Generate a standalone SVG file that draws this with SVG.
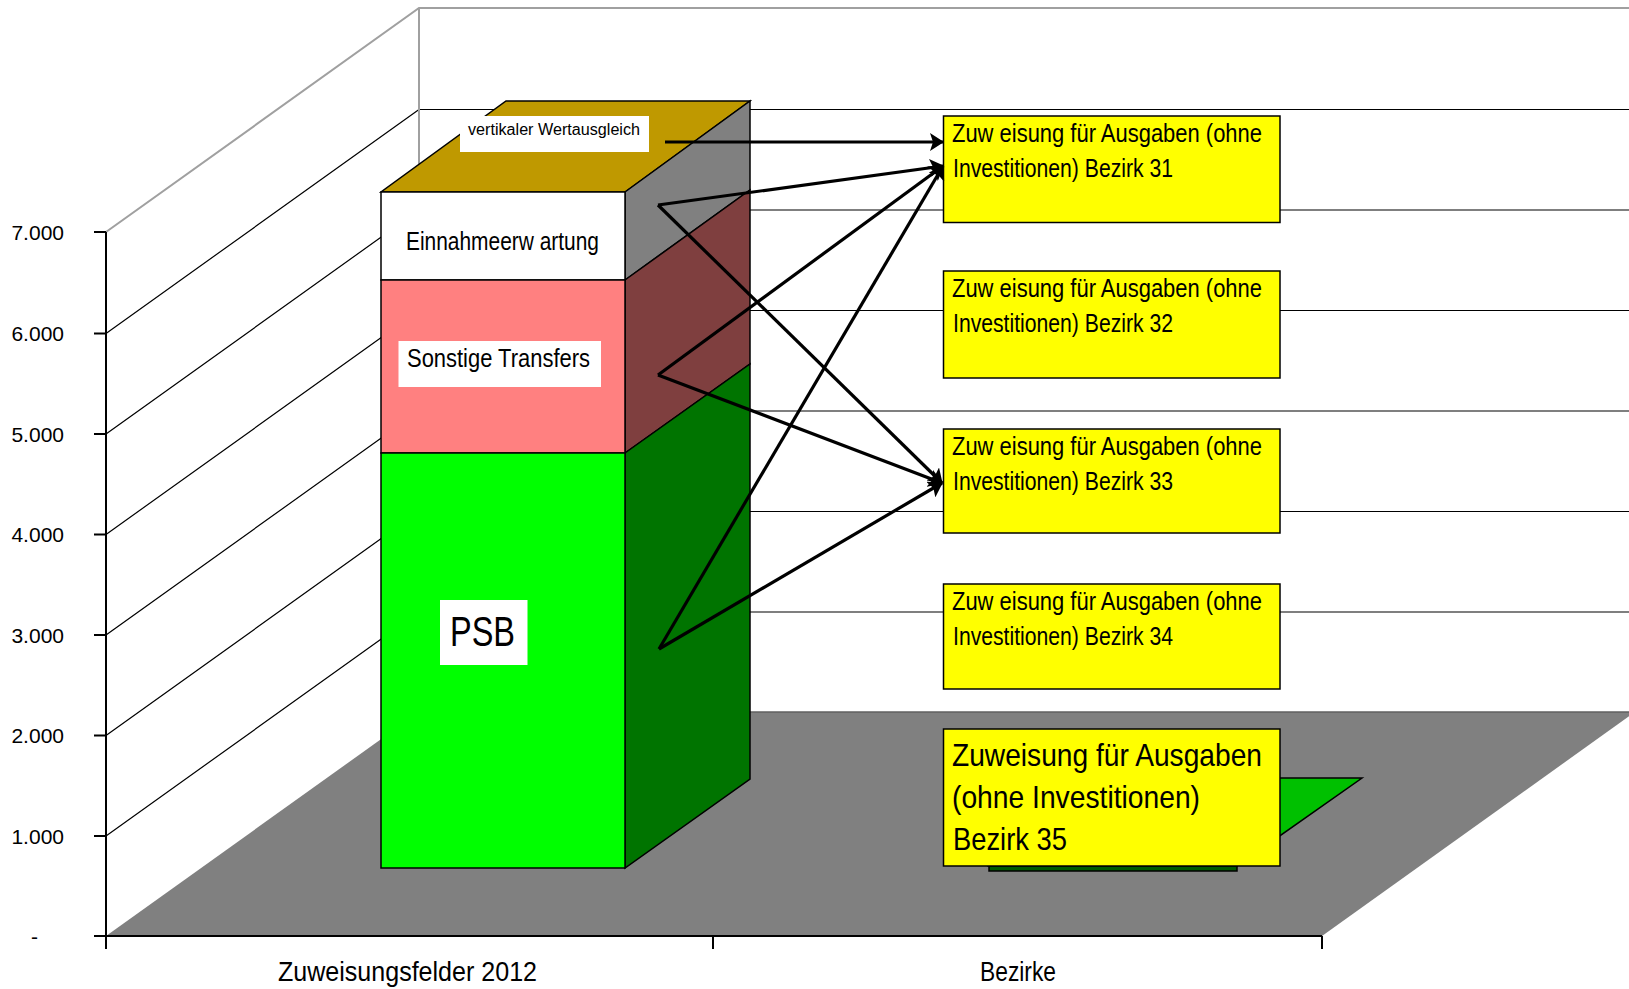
<svg xmlns="http://www.w3.org/2000/svg" width="1629" height="989" viewBox="0 0 1629 989">
<defs>
<style>
text{font-family:"Liberation Sans",Arial,sans-serif;fill:#000}
.ax{font-size:21px;text-anchor:end}
.grid{stroke:#000;stroke-width:1.2;fill:none}
.edge{stroke:#a0a0a0;stroke-width:2;fill:none}
.face{stroke:#000;stroke-width:1.5}
.box{fill:#ffff00;stroke:#000;stroke-width:1.5}
.lbl{fill:#fff}
.bt{font-size:25px}
.conn{stroke:#000;stroke-width:3.2;fill:none;marker-end:url(#ah)}
</style>
<marker id="ah" viewBox="0 0 14 18" refX="13" refY="9" markerWidth="14" markerHeight="18" markerUnits="userSpaceOnUse" orient="auto">
<path d="M0,0 L14,9 L0,18 L3,9 z" fill="#000"/>
</marker>
</defs>
<rect width="1629" height="989" fill="#fff"/>

<g id="walls">
<path class="grid" d="M419,109.5H1629M419,210H1629M419,310.5H1629M419,411H1629M419,511.5H1629M419,612H1629"/>
<path class="grid" d="M106,333.5L419,109.5M106,434L419,210M106,534.5L419,310.5M106,635L419,411M106,735.5L419,511.5M106,836L419,612"/>
<path class="edge" d="M106,232L419,8H1629M419,8V712"/>
<polygon points="106,936 1322,936 1635,712 419,712" fill="#808080"/>
<path d="M419,712H1635" stroke="#606060" stroke-width="1.5"/>
</g>

<g id="axes">
<path d="M106,232V949M94,936H1322M94,232H106M94,333.5H106M94,434H106M94,534.5H106M94,635H106M94,735.5H106M94,836H106M713,936V949M1322,936V949" stroke="#000" stroke-width="2" fill="none"/>
<text class="ax" x="64" y="240">7.000</text>
<text class="ax" x="64" y="341">6.000</text>
<text class="ax" x="64" y="441.5">5.000</text>
<text class="ax" x="64" y="542">4.000</text>
<text class="ax" x="64" y="642.5">3.000</text>
<text class="ax" x="64" y="743">2.000</text>
<text class="ax" x="64" y="843.5">1.000</text>
<text class="ax" x="38" y="943.5">-</text>
<text x="278" y="981" font-size="27" textLength="259" lengthAdjust="spacingAndGlyphs">Zuweisungsfelder 2012</text>
<text x="980" y="981" font-size="27" textLength="76" lengthAdjust="spacingAndGlyphs">Bezirke</text>
</g>

<g id="bar-zuweisungsfelder">
<polygon class="face" points="381,192 625,192 750,101 506,101" fill="#bf9900"/>
<polygon class="face" points="625,192 750,101 750,190 625,280" fill="#808080"/>
<polygon class="face" points="625,280 750,190 750,364 625,453" fill="#7f3f3f"/>
<polygon class="face" points="625,453 750,364 750,779 625,868" fill="#007400"/>
<rect class="face" x="381" y="192" width="244" height="88" fill="#fff"/>
<rect class="face" x="381" y="280" width="244" height="173" fill="#ff8080"/>
<rect class="face" x="381" y="453" width="244" height="415" fill="#00ff00"/>
</g>

<g id="label-vertikaler">
<rect class="lbl" x="460" y="116" width="189" height="36"/>
<text x="468" y="135" font-size="16" textLength="172" lengthAdjust="spacingAndGlyphs">vertikaler Wertausgleich</text>
</g>
<g id="label-einnahme">
<text x="406" y="250" font-size="26" textLength="193" lengthAdjust="spacingAndGlyphs">Einnahmeerw artung</text>
</g>
<g id="label-sonstige">
<rect class="lbl" x="398.5" y="341" width="202.5" height="46"/>
<text x="407" y="367" font-size="26" textLength="183" lengthAdjust="spacingAndGlyphs">Sonstige Transfers</text>
</g>
<g id="label-psb">
<rect class="lbl" x="440" y="600" width="87.5" height="65"/>
<text x="450" y="646" font-size="43" textLength="65" lengthAdjust="spacingAndGlyphs">PSB</text>
</g>

<g id="bar-bezirk35">
<polygon class="face" points="989,866 1237,866 1362,778 1114,778" fill="#00c000"/>
<rect class="face" x="989" y="866" width="248" height="5" fill="#005a00"/>
</g>

<g id="box31">
<rect class="box" x="943.5" y="116" width="336.5" height="106.5"/>
<text class="bt" x="952" y="141.5" textLength="310" lengthAdjust="spacingAndGlyphs">Zuw eisung für Ausgaben (ohne</text>
<text class="bt" x="953" y="176.5" textLength="220" lengthAdjust="spacingAndGlyphs">Investitionen) Bezirk 31</text>
</g>
<g id="box32">
<rect class="box" x="943.5" y="271" width="336.5" height="107"/>
<text class="bt" x="952" y="296.5" textLength="310" lengthAdjust="spacingAndGlyphs">Zuw eisung für Ausgaben (ohne</text>
<text class="bt" x="953" y="331.5" textLength="220" lengthAdjust="spacingAndGlyphs">Investitionen) Bezirk 32</text>
</g>
<g id="box33">
<rect class="box" x="943.5" y="429" width="336.5" height="104"/>
<text class="bt" x="952" y="454.5" textLength="310" lengthAdjust="spacingAndGlyphs">Zuw eisung für Ausgaben (ohne</text>
<text class="bt" x="953" y="489.5" textLength="220" lengthAdjust="spacingAndGlyphs">Investitionen) Bezirk 33</text>
</g>
<g id="box34">
<rect class="box" x="943.5" y="584" width="336.5" height="105"/>
<text class="bt" x="952" y="609.5" textLength="310" lengthAdjust="spacingAndGlyphs">Zuw eisung für Ausgaben (ohne</text>
<text class="bt" x="953" y="644.5" textLength="220" lengthAdjust="spacingAndGlyphs">Investitionen) Bezirk 34</text>
</g>
<g id="box35">
<rect class="box" x="943.5" y="729" width="336.5" height="137"/>
<text x="952" y="766" font-size="32" textLength="310" lengthAdjust="spacingAndGlyphs">Zuweisung für Ausgaben</text>
<text x="952" y="808" font-size="32" textLength="248" lengthAdjust="spacingAndGlyphs">(ohne Investitionen)</text>
<text x="953" y="850" font-size="32" textLength="114" lengthAdjust="spacingAndGlyphs">Bezirk 35</text>
</g>

<g id="connectors">
<line class="conn" x1="665" y1="142" x2="943" y2="142"/>
<line class="conn" x1="658" y1="205" x2="943" y2="166"/>
<line class="conn" x1="658" y1="205" x2="942" y2="483"/>
<line class="conn" x1="658" y1="375" x2="943" y2="166"/>
<line class="conn" x1="658" y1="375" x2="942" y2="483"/>
<line class="conn" x1="659" y1="649" x2="943" y2="166"/>
<line class="conn" x1="659" y1="649" x2="942" y2="483"/>
</g>
</svg>
